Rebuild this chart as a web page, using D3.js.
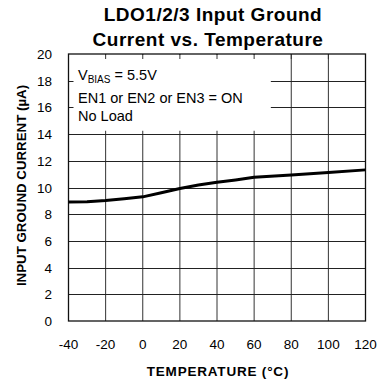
<!DOCTYPE html>
<html><head><meta charset="utf-8">
<script src="https://cdn.jsdelivr.net/npm/d3@7"></script>
<style>body{margin:0;background:#fff}</style>
</head><body>
<svg id="c" width="387" height="383"></svg>
<script>
const temps = [-40,-30,-20,-10,0,10,20,30,40,50,60,80,100,120];
const current = [8.92,8.93,9.02,9.15,9.3,9.6,9.92,10.18,10.4,10.57,10.76,10.94,11.12,11.32];
const xTicks = [-40,-20,0,20,40,60,80,100,120];
const yTicks = [0,2,4,6,8,10,12,14,16,18,20];
const titleLines = ["LDO1/2/3 Input Ground","Current vs. Temperature"];
const xTitle = "TEMPERATURE (°C)";
const yTitle = "INPUT GROUND CURRENT (µA)";
const noteLines = ["EN1 or EN2 or EN3 = ON","No Load"];

const font = "Arial, 'Liberation Sans', sans-serif";
const svg = d3.select("#c");
const L=68.5, R=365.5, T=54, B=321;
const x = d3.scaleLinear().domain([-40,120]).range([L,R]);
const y = d3.scaleLinear().domain([0,20]).range([B,T]);

// grid
const g = svg.append("g");
g.selectAll(".vx").data(xTicks.slice(1,-1)).join("line")
  .attr("x1",d=>x(d)).attr("x2",d=>x(d)).attr("y1",T).attr("y2",B)
  .attr("stroke","#333").attr("stroke-width",1);
g.selectAll(".hy").data(yTicks.slice(1,-1)).join("line")
  .attr("x1",L).attr("x2",R).attr("y1",d=>Math.round(y(d))+0.5).attr("y2",d=>Math.round(y(d))+0.5)
  .attr("stroke","#222").attr("stroke-width",1);

// note box (white)
svg.append("rect").attr("x",L+1).attr("y",T+1).attr("width",x(69)-L-1).attr("height",y(14.25)-T-1).attr("fill","#fff");
// inward ticks on top and left inside box
svg.selectAll(".tt").data(xTicks.slice(1,-1)).join("line")
  .attr("x1",d=>x(d)).attr("x2",d=>x(d)).attr("y1",T).attr("y2",T+5)
  .attr("stroke","#333");
svg.selectAll(".lt").data(yTicks.slice(1,-1)).join("line")
  .attr("x1",L).attr("x2",L+5).attr("y1",d=>Math.round(y(d))+0.5).attr("y2",d=>Math.round(y(d))+0.5)
  .attr("stroke","#222");

// frame
svg.append("rect").attr("x",L).attr("y",T).attr("width",R-L).attr("height",B-T)
  .attr("fill","none").attr("stroke","#111").attr("stroke-width",1.3);

// curve
svg.append("path").datum(temps.map((t,i)=>[t,current[i]]))
  .attr("d",d3.line().x(d=>x(d[0])).y(d=>y(d[1])))
  .attr("fill","none").attr("stroke","#000").attr("stroke-width",3).attr("stroke-linejoin","round");

// tick labels
svg.selectAll(".yl").data(yTicks).join("text")
  .attr("x",52).attr("y",d=>y(d)+5).attr("text-anchor","end")
  .attr("font-family",font).attr("font-size",13.5).text(d=>d);
svg.selectAll(".xl").data(xTicks).join("text")
  .attr("x",d=>x(d)).attr("y",348.5).attr("text-anchor","middle")
  .attr("font-family",font).attr("font-size",13.5).text(d=>d);

// titles
svg.selectAll(".ti").data(titleLines).join("text")
  .attr("x",(d,i)=>i?208:213).attr("y",(d,i)=>20.5+i*25.5).attr("text-anchor","middle")
  .attr("font-family",font).attr("font-weight","bold").attr("font-size",19).attr("letter-spacing",0.5).text(d=>d);
svg.append("text").attr("x",218).attr("y",376).attr("text-anchor","middle")
  .attr("font-family",font).attr("font-weight","bold").attr("font-size",13.5).attr("letter-spacing",0.8).text(xTitle);
svg.append("text").attr("transform","translate(26,185.5) rotate(-90)").attr("text-anchor","middle")
  .attr("font-family",font).attr("font-weight","bold").attr("font-size",13.3).text(yTitle);

// note
const n = svg.append("text").attr("x",78).attr("y",80).attr("font-family",font).attr("font-size",14.5);
n.append("tspan").text("V");
n.append("tspan").attr("font-size",10).attr("dy",3).text("BIAS");
n.append("tspan").attr("dy",-3).text(" = 5.5V");
svg.selectAll(".nl").data(noteLines).join("text")
  .attr("x",78).attr("y",(d,i)=>103+i*18).attr("font-family",font).attr("font-size",14.5).text(d=>d);
</script>
</body></html>
